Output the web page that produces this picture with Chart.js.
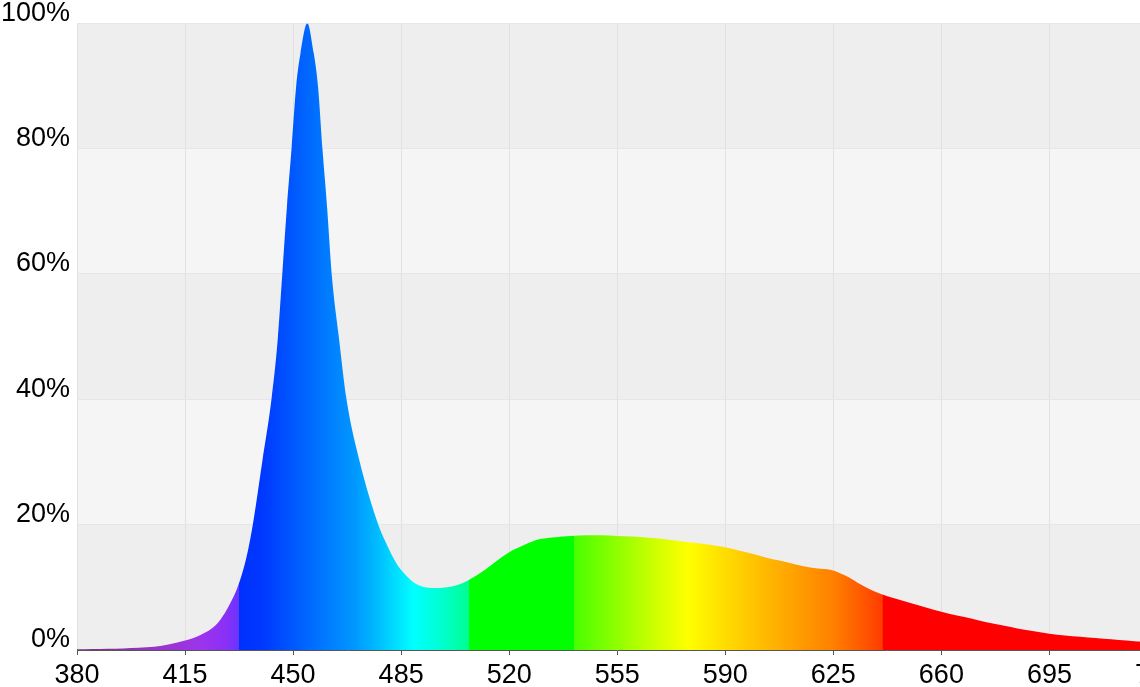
<!DOCTYPE html>
<html>
<head>
<meta charset="utf-8">
<script src="https://cdn.jsdelivr.net/npm/chart.js@4.4.1/dist/chart.umd.min.js"></script>
<style>
  html, body { margin: 0; padding: 0; background: #ffffff; overflow: hidden; }
  #wrap { position: relative; width: 1184px; height: 687px; }
</style>
</head>
<body>
<div id="wrap"><canvas id="c"></canvas></div>
<script>
// Wavelength (nm) and relative intensity (%)
const wavelengths = [380,385,390,395,400,405,410,415,420,425,428,430,432,434.5,436.6,440,443,445,446.5,448,449.5,451,452.4,454.6,456.7,458.1,459.5,461,462.5,464.8,467.3,471.6,477.6,480,483.5,486,489,492,496,501,505,508,511,514,520,525,530,535,540,545,550,555,560,565,570,575,580,585,590,595,600,605,610,615,620,624,627,630,633,636,640,645,650,655,660,665,670,675,680,685,690,695,700,705,710,715,720,725,730];
const intensity   = [0.1,0.15,0.2,0.25,0.35,0.5,0.9,1.5,2.4,4.0,6.0,7.8,10.0,14.0,19.0,30,40,49.4,60,70.7,80,90,95.2,100,95.2,89.8,80,70.7,60,50,40,30,20,17.2,13.8,12.2,10.8,10.1,9.9,10.1,10.7,11.5,12.4,13.5,15.6,16.8,17.7,18.0,18.2,18.3,18.3,18.2,18.1,17.9,17.7,17.4,17.1,16.8,16.4,15.8,15.2,14.5,14.0,13.4,13.0,12.8,12.3,11.6,10.7,9.9,9.0,8.2,7.5,6.8,6.1,5.5,5.0,4.4,3.9,3.4,3.0,2.6,2.3,2.1,1.9,1.7,1.5,1.3,1.2];
const xTicks = [380,415,450,485,520,555,590,625,660,695,730];
const yTicks = [0,20,40,60,80,100];

// spectrum colour stops (wavelength -> colour)
const spectrumStops = [
  [380,'#7e2a8c'],[405,'#9a34c8'],[420,'#9c34ec'],[428,'#8c30f6'],[432.4,'#6a34ff'],
  [432.5,'#0030ff'],[440,'#0038ff'],[450,'#0058ff'],[460,'#0078ff'],[470,'#0098ff'],
  [478,'#00c0ff'],[489,'#00ffff'],[498,'#00ffd0'],[506.9,'#00ff90'],
  [507.0,'#00ff00'],[540.9,'#00ff00'],[541.0,'#48ff00'],[555,'#90ff00'],[566,'#c8ff00'],
  [578,'#ffff00'],[590,'#ffdc00'],[605,'#ffb400'],[625,'#ff8000'],[640.9,'#ff3c00'],
  [641.0,'#ff0000'],[730,'#ff0000']
];
const bandDark = '#eeeeee';
const bandLight = '#f5f5f5';

const points = wavelengths.map((w, i) => ({ x: w, y: intensity[i] }));

const bandsPlugin = {
  id: 'bands',
  beforeDraw(chart) {
    const { ctx, chartArea } = chart;
    const y = chart.scales.y;
    ctx.save();
    for (let i = 0; i < yTicks.length - 1; i++) {
      const top = y.getPixelForValue(yTicks[i + 1]);
      const bot = y.getPixelForValue(yTicks[i]);
      ctx.fillStyle = (i % 2 === 0) ? bandDark : bandLight;
      ctx.fillRect(chartArea.left, top, chartArea.right - chartArea.left, bot - top);
    }
    ctx.restore();
  }
};

function spectrumFill(context) {
  const chart = context.chart;
  const { chartArea } = chart;
  if (!chartArea) return '#0058ff';
  const xs = chart.scales.x;
  const x0 = xs.getPixelForValue(xTicks[0]);
  const x1 = xs.getPixelForValue(xTicks[xTicks.length - 1]);
  const g = chart.ctx.createLinearGradient(x0, 0, x1, 0);
  const span = xTicks[xTicks.length - 1] - xTicks[0];
  spectrumStops.forEach(([w, c]) => g.addColorStop(Math.min(1, Math.max(0, (w - xTicks[0]) / span)), c));
  return g;
}

const font = { family: '"Liberation Sans", Arial, sans-serif', size: 27 };

new Chart(document.getElementById('c'), {
  type: 'line',
  data: {
    datasets: [{
      data: points,
      fill: 'origin',
      backgroundColor: spectrumFill,
      borderWidth: 0,
      borderColor: 'rgba(0,0,0,0)',
      pointRadius: 0,
      cubicInterpolationMode: 'monotone'
    }]
  },
  plugins: [bandsPlugin],
  options: {
    responsive: true,
    maintainAspectRatio: false,
    animation: false,
    events: [],
    layout: { padding: { top: 23, left: 0, right: 0, bottom: 0 } },
    plugins: { legend: { display: false }, tooltip: { enabled: false } },
    scales: {
      x: {
        type: 'linear',
        min: xTicks[0],
        max: xTicks[xTicks.length - 1],
        afterBuildTicks(scale) { scale.ticks = xTicks.map(v => ({ value: v })); },
        afterFit(scale) { scale.height = 37; },
        grid: { color: '#e1e1e1', lineWidth: 1, drawTicks: true, tickLength: 5, tickColor: '#555555' },
        border: { display: true, color: '#555555', width: 1 },
        ticks: { color: '#000000', font: font, padding: 4, maxRotation: 0, autoSkip: false,
                 callback: v => String(v) }
      },
      y: {
        type: 'linear',
        min: yTicks[0],
        max: yTicks[yTicks.length - 1],
        afterBuildTicks(scale) { scale.ticks = yTicks.map(v => ({ value: v })); },
        afterFit(scale) { scale.width = 77; },
        grid: { color: '#e6e6e6', lineWidth: 1, drawTicks: false },
        border: { display: false },
        ticks: { color: '#000000', font: font, padding: 7, labelOffset: -10,
                 callback: v => v + '%' }
      }
    }
  }
});
</script>
</body>
</html>
